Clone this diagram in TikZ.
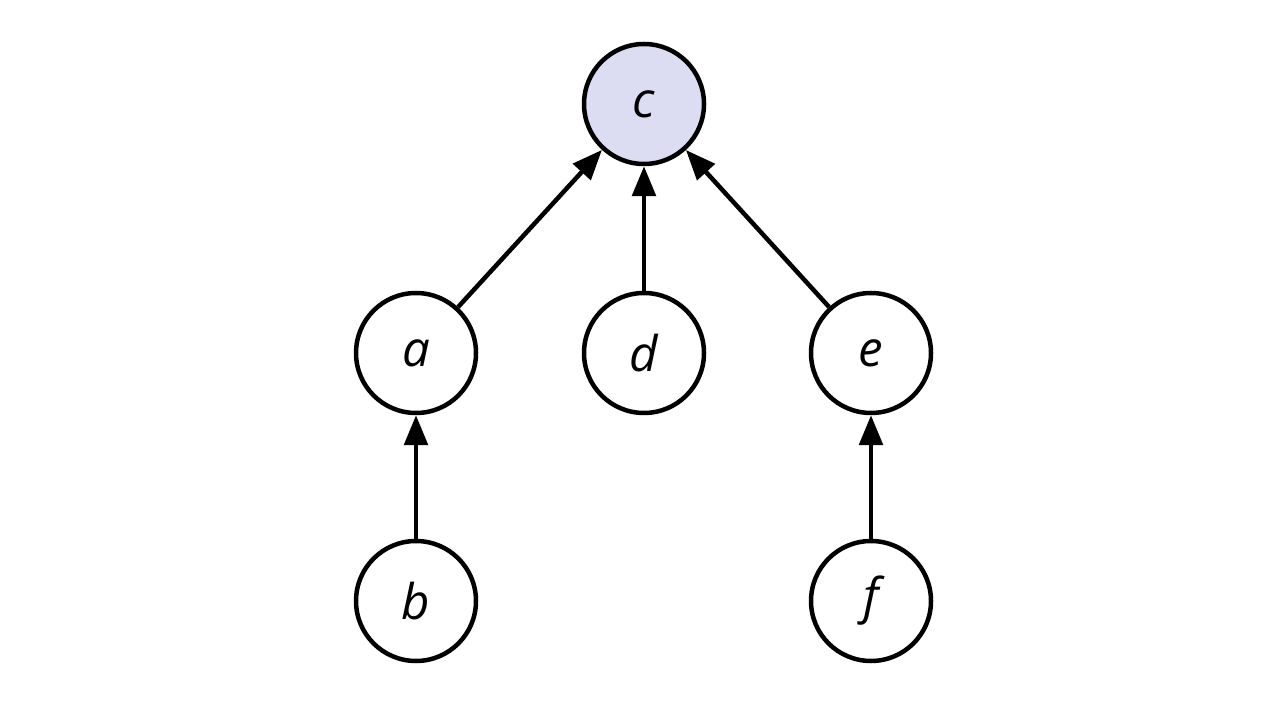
\documentclass[tikz,border=0pt]{standalone}
\usepackage{fontspec}
\setmainfont{Open Sans}
\usepackage{tikz}
\usetikzlibrary{arrows.meta,backgrounds,calc}
\definecolor{rootfill}{RGB}{220,220,242}
\tikzset{
vertex/.style={circle,draw=black,line width=0.09cm,minimum size=2.4cm,inner sep=0pt,font=\fontsize{28}{30}\selectfont\itshape},
root/.style={vertex,fill=rootfill},
parent/.style={line width=0.09cm,-{Triangle[length=0.6cm,width=0.47cm]}}
}
\begin{document}
\begin{tikzpicture}
\useasboundingbox (0,0) rectangle (25.6,14.4);
\node[root] (c) at (12.88,12.32) {c};
\node[vertex] (a) at (8.32,7.34) {a};
\node[vertex] (d) at (12.88,7.34) {d};
\node[vertex] (e) at (17.42,7.34) {e};
\node[vertex] (b) at (8.32,2.38) {b};
\node[vertex] (f) at (17.42,2.38) {f};
\draw[parent] (a) -- (c);
\draw[parent] (d) -- (c);
\draw[parent] (e) -- (c);
\draw[parent] (b) -- (a);
\draw[parent] (f) -- (e);
\end{tikzpicture}
\end{document}
